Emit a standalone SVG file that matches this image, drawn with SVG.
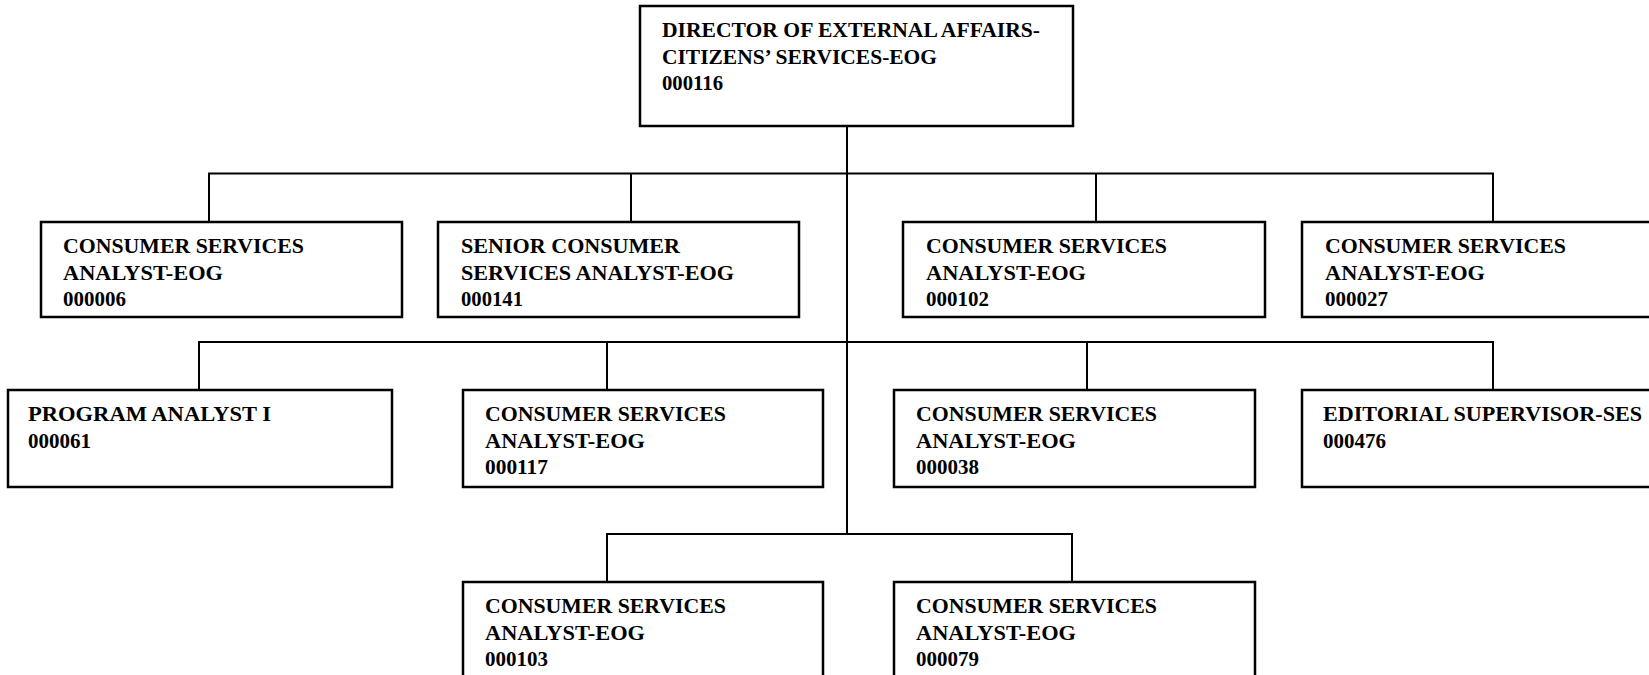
<svg xmlns="http://www.w3.org/2000/svg" width="1649" height="675" viewBox="0 0 1649 675">
  <style>
    .box { fill: #ffffff; stroke: #000000; stroke-width: 2.5; }
    .link { fill: none; stroke: #000000; stroke-width: 2; }
    .lbl { font-family: "Liberation Serif", "Times New Roman", serif; font-weight: bold; font-size: 20px; fill: #000000; }
  </style>
  <rect width="1649" height="675" fill="#ffffff"/>

  <!-- reporting lines -->
  <g id="connectors">
    <path class="link" d="M847 126 V534"/>
    <path class="link" d="M209 222 V173.5 H1493 V222 M631 173.5 V222 M1096 173.5 V222"/>
    <path class="link" d="M199 390 V342 H1493 V390 M607 342 V390 M1087 342 V390"/>
    <path class="link" d="M607 582 V534 H1072 V582"/>
  </g>

  <g id="n000116">
    <rect class="box" x="640" y="6" width="433" height="120"/>
    <text class="lbl" x="662" y="37" textLength="378" lengthAdjust="spacingAndGlyphs">DIRECTOR OF EXTERNAL AFFAIRS-</text>
    <text class="lbl" x="662" y="63.5" textLength="275" lengthAdjust="spacingAndGlyphs">CITIZENS’ SERVICES-EOG</text>
    <text class="lbl" x="662" y="90" textLength="61" lengthAdjust="spacingAndGlyphs">000116</text>
  </g>

  <!-- first row -->
  <g id="n000006">
    <rect class="box" x="41" y="222" width="361" height="95"/>
    <text class="lbl" x="63" y="253" textLength="241" lengthAdjust="spacingAndGlyphs">CONSUMER SERVICES</text>
    <text class="lbl" x="63" y="279.5" textLength="160" lengthAdjust="spacingAndGlyphs">ANALYST-EOG</text>
    <text class="lbl" x="63" y="306" textLength="63" lengthAdjust="spacingAndGlyphs">000006</text>
  </g>
  <g id="n000141">
    <rect class="box" x="438" y="222" width="361" height="95"/>
    <text class="lbl" x="461" y="253" textLength="219" lengthAdjust="spacingAndGlyphs">SENIOR CONSUMER</text>
    <text class="lbl" x="461" y="279.5" textLength="273" lengthAdjust="spacingAndGlyphs">SERVICES ANALYST-EOG</text>
    <text class="lbl" x="461" y="306" textLength="62" lengthAdjust="spacingAndGlyphs">000141</text>
  </g>
  <g id="n000102">
    <rect class="box" x="903" y="222" width="362" height="95"/>
    <text class="lbl" x="926" y="253" textLength="241" lengthAdjust="spacingAndGlyphs">CONSUMER SERVICES</text>
    <text class="lbl" x="926" y="279.5" textLength="160" lengthAdjust="spacingAndGlyphs">ANALYST-EOG</text>
    <text class="lbl" x="926" y="306" textLength="63" lengthAdjust="spacingAndGlyphs">000102</text>
  </g>
  <g id="n000027">
    <rect class="box" x="1302" y="222" width="362" height="95"/>
    <text class="lbl" x="1325" y="253" textLength="241" lengthAdjust="spacingAndGlyphs">CONSUMER SERVICES</text>
    <text class="lbl" x="1325" y="279.5" textLength="160" lengthAdjust="spacingAndGlyphs">ANALYST-EOG</text>
    <text class="lbl" x="1325" y="306" textLength="63" lengthAdjust="spacingAndGlyphs">000027</text>
  </g>

  <!-- second row -->
  <g id="n000061">
    <rect class="box" x="8" y="390" width="384" height="97"/>
    <text class="lbl" x="28" y="421" textLength="243" lengthAdjust="spacingAndGlyphs">PROGRAM ANALYST I</text>
    <text class="lbl" x="28" y="447.5" textLength="63" lengthAdjust="spacingAndGlyphs">000061</text>
  </g>
  <g id="n000117">
    <rect class="box" x="463" y="390" width="360" height="97"/>
    <text class="lbl" x="485" y="421" textLength="241" lengthAdjust="spacingAndGlyphs">CONSUMER SERVICES</text>
    <text class="lbl" x="485" y="447.5" textLength="160" lengthAdjust="spacingAndGlyphs">ANALYST-EOG</text>
    <text class="lbl" x="485" y="474" textLength="63" lengthAdjust="spacingAndGlyphs">000117</text>
  </g>
  <g id="n000038">
    <rect class="box" x="894" y="390" width="361" height="97"/>
    <text class="lbl" x="916" y="421" textLength="241" lengthAdjust="spacingAndGlyphs">CONSUMER SERVICES</text>
    <text class="lbl" x="916" y="447.5" textLength="160" lengthAdjust="spacingAndGlyphs">ANALYST-EOG</text>
    <text class="lbl" x="916" y="474" textLength="63" lengthAdjust="spacingAndGlyphs">000038</text>
  </g>
  <g id="n000476">
    <rect class="box" x="1302" y="390" width="362" height="97"/>
    <text class="lbl" x="1323" y="421" textLength="319" lengthAdjust="spacingAndGlyphs">EDITORIAL SUPERVISOR-SES</text>
    <text class="lbl" x="1323" y="447.5" textLength="63" lengthAdjust="spacingAndGlyphs">000476</text>
  </g>

  <!-- third row -->
  <g id="n000103">
    <rect class="box" x="463" y="582" width="360" height="97"/>
    <text class="lbl" x="485" y="613" textLength="241" lengthAdjust="spacingAndGlyphs">CONSUMER SERVICES</text>
    <text class="lbl" x="485" y="639.5" textLength="160" lengthAdjust="spacingAndGlyphs">ANALYST-EOG</text>
    <text class="lbl" x="485" y="666" textLength="63" lengthAdjust="spacingAndGlyphs">000103</text>
  </g>
  <g id="n000079">
    <rect class="box" x="894" y="582" width="361" height="97"/>
    <text class="lbl" x="916" y="613" textLength="241" lengthAdjust="spacingAndGlyphs">CONSUMER SERVICES</text>
    <text class="lbl" x="916" y="639.5" textLength="160" lengthAdjust="spacingAndGlyphs">ANALYST-EOG</text>
    <text class="lbl" x="916" y="666" textLength="63" lengthAdjust="spacingAndGlyphs">000079</text>
  </g>
</svg>
